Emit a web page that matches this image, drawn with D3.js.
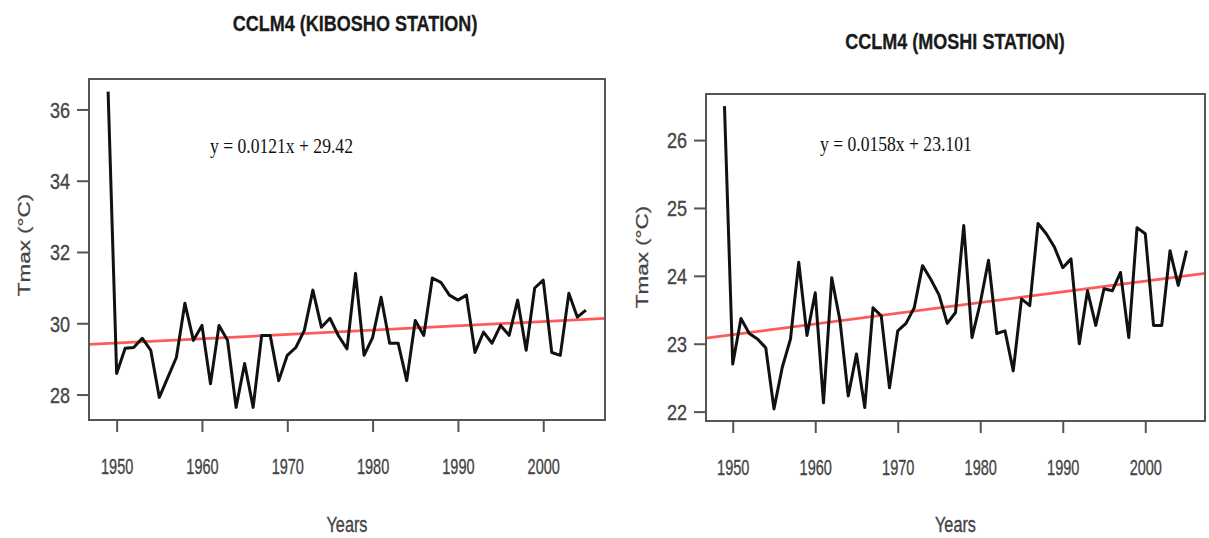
<!DOCTYPE html>
<html>
<head>
<meta charset="utf-8">
<script src="https://cdn.jsdelivr.net/npm/d3@7"></script>
<style>
  body { margin: 0; background: #fff; }
  svg text { font-family: "Liberation Sans", Arial, sans-serif; }
</style>
</head>
<body>
<svg id="fig" width="1209" height="538"></svg>
<script>
// Annual maximum temperature, CCLM4 model, 1949-2005
const years = [1949,1950,1951,1952,1953,1954,1955,1956,1957,1958,1959,1960,1961,1962,1963,1964,1965,1966,1967,1968,1969,1970,1971,1972,1973,1974,1975,1976,1977,1978,1979,1980,1981,1982,1983,1984,1985,1986,1987,1988,1989,1990,1991,1992,1993,1994,1995,1996,1997,1998,1999,2000,2001,2002,2003,2004,2005];

const kiboshoTmax = [36.5,28.59,29.3,29.32,29.58,29.24,27.92,28.48,29.04,30.56,29.52,29.94,28.3,29.94,29.52,27.64,28.87,27.64,29.66,29.66,28.39,29.1,29.32,29.8,30.93,29.89,30.14,29.65,29.28,31.4,29.1,29.6,30.73,29.44,29.44,28.39,30.08,29.66,31.27,31.15,30.79,30.65,30.79,29.18,29.75,29.44,29.94,29.66,30.65,29.24,30.99,31.21,29.18,29.1,30.84,30.17,30.37];

const moshiTmax = [26.5,22.7,23.37,23.15,23.07,22.94,22.04,22.65,23.07,24.2,23.12,23.75,22.13,23.97,23.34,22.23,22.85,22.06,23.53,23.41,22.35,23.19,23.3,23.53,24.15,23.95,23.72,23.3,23.46,24.74,23.09,23.6,24.23,23.15,23.19,22.6,23.66,23.56,24.77,24.62,24.42,24.12,24.25,23.0,23.78,23.27,23.81,23.78,24.05,23.09,24.71,24.62,23.27,23.27,24.37,23.86,24.37];

// Linear trends, x counted as years since 1948
const trendSlopes = [0.0121, 0.0158];
const trendIntercepts = [29.42, 23.101];
const trendLabels = ["y = 0.0121x + 29.42", "y = 0.0158x + 23.101"];

const titles = ["CCLM4 (KIBOSHO STATION)", "CCLM4 (MOSHI STATION)"];
const xTicks = [1950, 1960, 1970, 1980, 1990, 2000];
const yTicksKibosho = [28, 30, 32, 34, 36];
const yTicksMoshi = [22, 23, 24, 25, 26];
const xTitle = "Years";
const yTitle = "Tmax (\u00B0C)";

const svg = d3.select("#fig");
const GREY = "#444";

function squeezedText(g, x, y, str, opts) {
  const t = g.append("text")
    .attr("transform", `translate(${x},${y}) scale(${opts.sx},1)` + (opts.rotate ? ` rotate(${opts.rotate})` : ""))
    .attr("text-anchor", opts.anchor || "middle")
    .attr("font-size", opts.size)
    .attr("fill", opts.fill || GREY)
    .text(str);
  if (opts.weight) t.attr("font-weight", opts.weight);
  if (opts.family) t.style("font-family", opts.family);
  if (opts.stroke) t.attr("stroke", opts.fill || GREY).attr("stroke-width", opts.stroke);
  return t;
}

const panels = [
  { box: {x0: 89, x1: 605, y0: 79, y1: 420}, values: kiboshoTmax, yTicks: yTicksKibosho,
    title: {x: 355, y: 31}, eq: {x: 210, y: 153}, yLab: {x: 30, y: 245} },
  { box: {x0: 706, x1: 1205, y0: 94, y1: 421}, values: moshiTmax, yTicks: yTicksMoshi,
    title: {x: 955, y: 49}, eq: {x: 820, y: 151}, yLab: {x: 648, y: 257} }
];

function padded(ext) {
  const d = (ext[1] - ext[0]) * 0.04;
  return [ext[0] - d, ext[1] + d];
}

panels.forEach((p, i) => {
  const b = p.box;
  const g = svg.append("g");

  const x = d3.scaleLinear().domain(padded(d3.extent(years))).range([b.x0, b.x1]);
  const y = d3.scaleLinear().domain(padded(d3.extent(p.values))).range([b.y1, b.y0]);

  // trend line across the full plotting region
  const trend = x.domain().map(yr => ({ yr, v: trendSlopes[i] * (yr - 1948) + trendIntercepts[i] }));
  g.append("path")
    .datum(trend)
    .attr("fill", "none")
    .attr("stroke", "#ff5a5a")
    .attr("stroke-width", 2.8)
    .attr("d", d3.line().x(d => x(d.yr)).y(d => y(d.v)));

  // annual series
  g.append("path")
    .datum(years.map((yr, k) => ({ yr, v: p.values[k] })))
    .attr("fill", "none")
    .attr("stroke", "#111")
    .attr("stroke-width", 3)
    .attr("stroke-linejoin", "round")
    .attr("d", d3.line().x(d => x(d.yr)).y(d => y(d.v)));

  // frame
  g.append("rect")
    .attr("x", b.x0).attr("y", b.y0)
    .attr("width", b.x1 - b.x0).attr("height", b.y1 - b.y0)
    .attr("fill", "none").attr("stroke", "#555").attr("stroke-width", 2);

  // bottom axis
  const ax = g.append("g").attr("transform", `translate(0,${b.y1})`)
    .call(d3.axisBottom(x).tickValues(xTicks).tickFormat(d3.format("d")).tickSize(12).tickSizeOuter(0).tickPadding(26));
  ax.select(".domain").attr("stroke", "#555").attr("stroke-width", 2)
    .attr("d", `M${x(xTicks[0])},0H${x(xTicks[xTicks.length - 1])}`);
  ax.selectAll(".tick line").attr("stroke", "#555").attr("stroke-width", 2);
  ax.selectAll(".tick text")
    .attr("font-size", 22).attr("fill", GREY)
    .attr("stroke", GREY).attr("stroke-width", 0.35)
    .style("font-family", "'Liberation Sans', Arial, sans-serif")
    .attr("transform", "scale(0.66,1)");

  // left axis
  const ay = g.append("g").attr("transform", `translate(${b.x0},0)`)
    .call(d3.axisLeft(y).tickValues(p.yTicks).tickFormat(d3.format("d")).tickSize(12).tickSizeOuter(0));
  ay.select(".domain").attr("stroke", "#555").attr("stroke-width", 2)
    .attr("d", `M0,${y(p.yTicks[0])}V${y(p.yTicks[p.yTicks.length - 1])}`);
  ay.selectAll(".tick line").attr("stroke", "#555").attr("stroke-width", 2);
  ay.selectAll(".tick text")
    .attr("font-size", 22).attr("fill", GREY)
    .attr("stroke", GREY).attr("stroke-width", 0.35)
    .style("font-family", "'Liberation Sans', Arial, sans-serif")
    .attr("x", -19 / 0.82).attr("dy", "0.36em")
    .attr("transform", "scale(0.82,1)");

  // titles and labels
  squeezedText(g, p.title.x, p.title.y, titles[i], { size: 22, weight: "bold", fill: "#1a1a1a", sx: 0.82, stroke: 0.3 });
  squeezedText(g, (b.x0 + b.x1) / 2, 532, xTitle, { size: 22, sx: 0.74, stroke: 0.35 });
  squeezedText(g, p.yLab.x, p.yLab.y, yTitle, { size: 22.5, sx: 0.76, rotate: -90, stroke: 0.35 });
  squeezedText(g, p.eq.x, p.eq.y, trendLabels[i], { size: 22, fill: "#111", anchor: "start", sx: 0.8,
    family: "'Liberation Serif', 'Times New Roman', serif" });
});
</script>
</body>
</html>
